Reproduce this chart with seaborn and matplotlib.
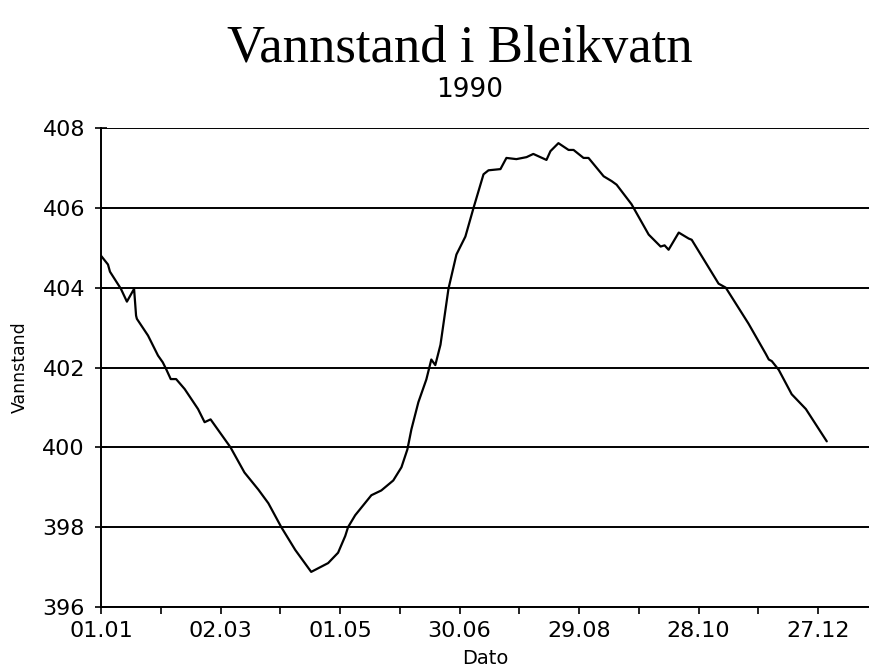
"""Water level in Bleikvatn through 1990, redrawn from a scanned chart."""

import matplotlib

matplotlib.use("Agg")
import matplotlib.pyplot as plt
import pandas as pd
import seaborn as sns
from matplotlib.ticker import MultipleLocator


# day of year (0 = 01.01) and water level
DAYS = [
    0, 3.5, 4.5, 10, 13, 16.6, 17.6, 18, 23.6, 28.6, 31, 32.7, 35, 37.7, 42,
    48.7, 52, 55, 65, 72, 79, 84, 90.5, 97.5, 105.5, 114, 119, 122.6, 124,
    127.6, 135.7, 140.7, 146.7, 150.8, 153.8, 155.8, 159.3, 163.3, 165.8,
    167.8, 170.4, 174.4, 178.4, 182.9, 187, 192, 194.5, 200.5, 203.5, 208.5,
    213.6, 217, 223.6, 225.6, 229.6, 234.7, 237.2, 242.2, 244.7, 252.3, 256.3,
    258.8, 266.3, 274.9, 280.9, 282.9, 284.9, 290, 295, 296.5, 310, 313.6,
    325, 333.7, 335.2, 336.7, 340.2, 346.7, 353.8, 364.3,
]
LEVELS = [
    404.80, 404.58, 404.40, 403.97, 403.65, 403.97, 403.30, 403.22, 402.80,
    402.30, 402.13, 401.96, 401.71, 401.71, 401.46, 400.96, 400.63, 400.70,
    400.00, 399.37, 398.94, 398.60, 398.00, 397.43, 396.88, 397.10, 397.36,
    397.78, 398.00, 398.30, 398.80, 398.92, 399.17, 399.50, 399.95, 400.45,
    401.13, 401.70, 402.20, 402.06, 402.57, 403.97, 404.83, 405.28, 406.00,
    406.84, 406.94, 406.97, 407.25, 407.22, 407.27, 407.35, 407.20, 407.42,
    407.62, 407.45, 407.45, 407.25, 407.25, 406.79, 406.67, 406.58, 406.09,
    405.33, 405.03, 405.06, 404.95, 405.38, 405.23, 405.20, 404.10, 404.00,
    403.10, 402.34, 402.20, 402.16, 401.94, 401.33, 400.96, 400.15,
]

TICK_DAYS = [0, 60, 120, 180, 240, 300, 360]
TICK_LABELS = ["01.01", "02.03", "01.05", "30.06", "29.08", "28.10", "27.12"]


def main() -> None:
    sns.set_theme(style="white")
    plt.rcParams["font.family"] = ["DejaVu Sans"]
    plt.rcParams["text.color"] = "black"
    plt.rcParams["axes.labelcolor"] = "black"

    data = pd.DataFrame({"dag": DAYS, "vannstand": LEVELS})

    fig = plt.figure(figsize=(8.7, 6.68), dpi=100)
    ax = fig.add_axes([0.1161, 0.0913, 1.0 - 0.1161, 0.8084 - 0.0913])

    sns.lineplot(data=data, x="dag", y="vannstand", ax=ax, color="black", linewidth=1.6)

    ax.set_xlim(0, 386)
    ax.set_ylim(396, 408)
    ax.set_yticks(range(396, 409, 2))
    ax.set_xticks(TICK_DAYS)
    ax.set_xticklabels(TICK_LABELS)
    ax.xaxis.set_minor_locator(MultipleLocator(30))

    ax.grid(axis="y", color="black", linewidth=1.4)
    ax.grid(axis="x", visible=False)
    ax.set_axisbelow(True)

    for side in ("top", "right"):
        ax.spines[side].set_visible(False)
    for side in ("left", "bottom"):
        ax.spines[side].set_color("black")
        ax.spines[side].set_linewidth(1.4)

    ax.tick_params(axis="y", which="major", direction="inout", length=9, width=1.2,
                   left=True, labelsize=16, pad=7, colors="black")
    ax.tick_params(axis="x", which="both", direction="out", length=5, width=1.2,
                   bottom=True, labelsize=16, pad=5, colors="black")

    ax.set_xlabel("Dato", fontsize=14, labelpad=6)
    ax.set_ylabel("Vannstand", fontsize=12.5, labelpad=10)

    fig.text(0.529, 0.907, "Vannstand i Bleikvatn", ha="center", va="baseline",
             fontsize=38, family=["Liberation Serif", "DejaVu Serif"])
    fig.text(0.540, 0.855, "1990", ha="center", va="baseline", fontsize=19)

    fig.savefig("out.png", dpi=100)
    plt.close(fig)


if __name__ == "__main__":
    main()
